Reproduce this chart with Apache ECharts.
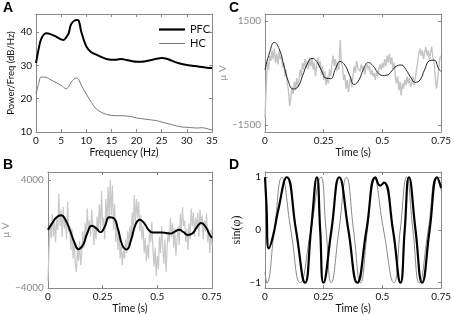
<!DOCTYPE html>
<html>
<head>
<meta charset="utf-8">
<script src="https://cdn.jsdelivr.net/npm/echarts@6/dist/echarts.min.js"></script>
<style>
  html, body { margin: 0; padding: 0; background: #fff; }
  #ec { width: 454px; height: 315px; }
</style>
</head>
<body>
<div id="ec"></div>
<script>
// A: power spectra (dB/Hz)
const freqA = [0, 0.5, 1, 2, 3, 4, 5, 5.5, 6, 6.5, 7, 8, 8.5, 9, 10, 11, 12, 13, 14, 15,
  16, 17, 18, 19, 20, 21, 22, 23, 24, 25, 26, 27, 28, 29, 30, 31, 32, 33, 34, 35];
const pfcA = [30.7, 34.7, 37.8, 39.6, 39.3, 38.6, 37.8, 37.6, 38.4, 39.6, 42.4, 43.6, 43.4, 40.1, 35.7, 33.9, 33.2, 32.5, 31.9, 31.7,
  31.7, 31.9, 31.6, 31.3, 31.1, 31.1, 31.3, 31.6, 32.0, 32.2, 32.0, 31.4, 30.8, 30.4, 30.1, 29.9, 29.7, 29.5, 29.3, 29.2];
const hcA = [21.4, 24.3, 26.5, 26.4, 25.6, 24.8, 24.0, 23.4, 23.0, 23.6, 25.0, 26.2, 25.8, 24.0, 21.4, 18.9, 16.9, 15.9, 15.3, 15.0,
  14.9, 14.9, 14.8, 14.6, 14.2, 14.0, 13.8, 13.6, 13.4, 13.0, 12.6, 12.2, 11.8, 11.5, 11.4, 11.3, 11.2, 11.3, 11.0, 10.6];

// B: PFC raw trace (every 5 ms) and theta-filtered trace
const dtRaw = 0.005;
const rawB = [-3500, -1200, 800, -300, 1500, -200, 900, -600, 1200, 300,
  3000, 600, 1800, -200, 2000, 400, 1200, -400, 2400, 200,
  600, -1200, 400, -1800, -600, -2200, -2800, -1000, -2000, -500,
  -2300, -1400, 200, -1000, 800, -300, 1900, 300, 1000, -200,
  1800, 600, -800, 500, -400, 1300, 200, 2200, 300, 3200,
  600, 1200, -400, 2600, 800, 3500, 1000, 4000, 1400, 3600,
  300, 2200, -600, 800, -1200, 200, -1800, -800, -2300, -1200,
  -1800, -400, -1400, 200, -800, 600, -600, 1600, 400, 2900,
  800, 2600, 1200, 2400, 200, 1400, -400, 600, -1400, -300,
  -2000, -800, -1800, 400, -600, 900, -1200, -2400, -1000, -3100,
  -1600, -2600, -200, -1400, 600, -1000, -2200, -400, -2800, -1000,
  200, -600, 1200, -200, 800, -1000, 400, -1600, -400, 600,
  -800, 1500, 200, 2000, 600, 1000, -600, 400, -1200, 800,
  -400, 1900, 600, 1600, -200, 1200, 400, 1600, -200, 1800,
  600, 1400, -400, 1000, 200, 1500, -600, 400, -1400, 300,
  -900];
const tFilt = [0, 0.02, 0.04, 0.06, 0.08, 0.10, 0.12, 0.14, 0.16, 0.18, 0.20, 0.22, 0.24, 0.26, 0.28, 0.30, 0.32, 0.34, 0.36, 0.38,
  0.40, 0.42, 0.44, 0.46, 0.48, 0.50, 0.52, 0.54, 0.56, 0.58, 0.60, 0.62, 0.64, 0.66, 0.68, 0.70, 0.72, 0.74, 0.75];
const filtB = [313, 815, 1240, 1390, 1065, 313, -564, -1115, -815, 63, 614, 439, 138, 564, 1240, 1190, 388, -815, -1140, -439,
  689, 1065, 815, 313, 113, 113, 113, 88, 38, 188, 313, 138, -63, 38, 489, 815, 564, -63, -263];

// C: HC raw trace and theta-filtered trace
const rawC = [-1300, -400, 300, 100, 500, 350, 650, 400, 700, 300,
  550, 250, 650, 400, 500, 150, 300, -100, 100, -300,
  -500, -950, -700, -400, -600, -250, -500, -150, -400, -200,
  100, -100, 300, 100, 400, 150, 350, 100, 450, 200,
  400, 100, 300, -100, 200, 450, 150, 350, -50, 200,
  -200, 50, -350, -100, -300, 100, -100, 250, 500, 200,
  400, 50, 300, 100, 950, 300, 200, -200, -50, -450,
  -200, -550, -300, -100, -400, -50, 200, 0, 350, 150,
  200, 50, 250, 100, 200, -50, 150, 250, 100, 200,
  -50, 100, -100, 0, -200, 50, -100, 100, 250, 100,
  300, 150, 400, 200, 500, 300, 550, 250, 450, 100,
  300, -100, -300, -100, -500, -250, -650, -300, -450, -200,
  -350, -100, -300, -150, -400, -300, -100, -350, -150, 100,
  300, 550, 700, 500, 650, 400, 600, 750, 500, 650,
  350, 600, 750, 450, 300, -100, -450, -200, 150, 450,
  500];
const filtC = [90, 600, 880, 700, 230, -250, -460, -400, -80, 260, 420, 330, 80, -150, -160, 120, 330, 230, -60, -330,
  -200, 120, 300, 210, 20, -70, -60, 60, 200, 230, 100, -120, -270, -200, 100, 350, 370, 120, 40];

// D: sine of theta phase
const tPhPfc = [0, 0.006, 0.016, 0.035, 0.055, 0.093, 0.132, 0.171, 0.196, 0.221, 0.235, 0.249, 0.283, 0.316, 0.355,
  0.393, 0.432, 0.471, 0.490, 0.507, 0.545, 0.577, 0.595, 0.613, 0.641, 0.669, 0.701, 0.733, 0.75];
const sinPfc = [1, 0.5, -0.35, -0.1, 0.35, 1, 0, -1, 0, 1, 0, -1, 0, 1, 0,
  -1, 0, 1, 0.84, 0.9, 0, -1, 0, 1, 0, -1, 0, 1, 0.8];
const tPhHc = [0, 0.008, 0.040, 0.072, 0.110, 0.150, 0.195, 0.238, 0.260, 0.282, 0.315, 0.347, 0.377,
  0.407, 0.436, 0.464, 0.505, 0.549, 0.576, 0.603, 0.630, 0.657, 0.695, 0.730, 0.75];
const sinHc = [-0.8, -1, 0, 1, 0, -1, 0, 1, 0, -1, 0, 1, 0,
  -1, 0, 1, 0, -1, 0, 1, 0, -1, 0, 1, 0.75];

const timeTicks = [0, 0.25, 0.5, 0.75];

const FONT = 'Lato';
const BOX = '#8a8a8a';

function pairs(t, v) { return v.map((y, i) => [t[i], y]); }
function sampled(v, dt) { return v.map((y, i) => [i * dt, y]); }
// plain numbers, real minus sign, no thousands separator
function num(v) { return String(v).replace('-', '\u2212'); }

// bottom/left axes carry labels, top/right just close the box
function xPair(grid, min, max, ticks, name, nameGap) {
  const base = {
    type: 'value', gridIndex: grid, min: min, max: max,
    axisLine: { show: true, onZero: false, lineStyle: { color: BOX, width: 1 } },
    axisTick: { inside: true, length: 3, customValues: ticks, lineStyle: { color: BOX } },
    splitLine: { show: false }
  };
  return [
    Object.assign({}, base, {
      position: 'bottom', name: name, nameLocation: 'middle', nameGap: nameGap,
      nameTextStyle: { fontFamily: FONT, fontSize: 10.5, color: '#111' },
      axisLabel: { customValues: ticks, formatter: num, fontFamily: FONT, fontSize: 10, color: '#111', margin: 4 }
    }),
    Object.assign({}, base, { position: 'top', axisLabel: { show: false } })
  ];
}
function yPair(grid, min, max, ticks, name, nameGap, nameStyle, labelColor) {
  const base = {
    type: 'value', gridIndex: grid, min: min, max: max,
    axisLine: { show: true, onZero: false, lineStyle: { color: BOX, width: 1 } },
    axisTick: { inside: true, length: 3, customValues: ticks, lineStyle: { color: BOX } },
    splitLine: { show: false }
  };
  return [
    Object.assign({}, base, {
      position: 'left', name: name, nameLocation: 'middle', nameGap: nameGap,
      nameTextStyle: nameStyle,
      axisLabel: { customValues: ticks, formatter: num, fontFamily: FONT, fontSize: 10, color: labelColor, margin: 4 }
    }),
    Object.assign({}, base, { position: 'right', axisLabel: { show: false } })
  ];
}

const chart = echarts.init(document.getElementById('ec'), null, { renderer: 'canvas' });

const legendBase = {
  orient: 'vertical', left: 154, itemWidth: 26, icon: 'rect',
  textStyle: { fontFamily: FONT, fontSize: 11, color: '#111' }
};

chart.setOption({
  animation: false,
  backgroundColor: '#fff',
  grid: [
    { left: 36, top: 14, width: 176, height: 118 },
    { left: 36, top: 172, width: 176, height: 117 },
    { left: 265, top: 14, width: 177, height: 118 },
    { left: 265, top: 172, width: 177, height: 116 }
  ],
  xAxis: [].concat(
    xPair(0, 0, 35, [0, 5, 10, 15, 20, 25, 30, 35], 'Frequency (Hz)', 14),
    xPair(1, 0, 0.75, timeTicks, 'Time (s)', 13),
    xPair(2, 0, 0.75, timeTicks, 'Time (s)', 9),
    xPair(3, 0, 0.75, timeTicks, 'Time (s)', 15)
  ),
  yAxis: [].concat(
    yPair(0, 10, 45.4, [10, 20, 30, 40], 'Power/Freq (dB/Hz)', 20,
      { fontFamily: FONT, fontSize: 9.5, color: '#111' }, '#111'),
    yPair(1, -4000, 4600, [-4000, 4000], 'μ V', 13,
      { fontFamily: FONT, fontSize: 10, color: '#999' }, '#888'),
    yPair(2, -1700, 1700, [-1500, 1500], 'μ V', 3,
      { fontFamily: FONT, fontSize: 10, color: '#999' }, '#888'),
    yPair(3, -1.1, 1.1, [-1, 0, 1], 'sin(φ)', 22,
      { fontFamily: 'Liberation Serif', fontSize: 12, color: '#111' }, '#111')
  ),
  legend: [
    Object.assign({}, legendBase, { data: ['PFC'], top: 19, itemHeight: 2.2 }),
    Object.assign({}, legendBase, { data: ['HC'], top: 33, itemHeight: 1 })
  ],
  graphic: [
    { type: 'text', left: 3, top: 1, style: { text: 'A', font: 'bold 14px "Liberation Sans"', fill: '#000' } },
    { type: 'text', left: 3, top: 158, style: { text: 'B', font: 'bold 14px "Liberation Sans"', fill: '#000' } },
    { type: 'text', left: 229, top: 1, style: { text: 'C', font: 'bold 14px "Liberation Sans"', fill: '#000' } },
    { type: 'text', left: 229, top: 158, style: { text: 'D', font: 'bold 14px "Liberation Sans"', fill: '#000' } }
  ],
  series: [
    {
      name: 'PFC', type: 'line', xAxisIndex: 0, yAxisIndex: 0, smooth: 0.3, symbol: 'none',
      data: pairs(freqA, pfcA), lineStyle: { color: '#000', width: 2 }, itemStyle: { color: '#000' }
    },
    {
      name: 'HC', type: 'line', xAxisIndex: 0, yAxisIndex: 0, smooth: 0.3, symbol: 'none',
      data: pairs(freqA, hcA), lineStyle: { color: '#777', width: 1 }, itemStyle: { color: '#777' }
    },
    {
      name: 'rawB', type: 'line', xAxisIndex: 2, yAxisIndex: 2, symbol: 'none',
      data: sampled(rawB, dtRaw), lineStyle: { color: '#c8c8c8', width: 1.2 }
    },
    {
      name: 'filtB', type: 'line', xAxisIndex: 2, yAxisIndex: 2, smooth: true, symbol: 'none',
      data: pairs(tFilt, filtB), lineStyle: { color: '#000', width: 2 }
    },
    {
      name: 'rawC', type: 'line', xAxisIndex: 4, yAxisIndex: 4, symbol: 'none',
      data: sampled(rawC, dtRaw), lineStyle: { color: '#c4c4c4', width: 1.4 }
    },
    {
      name: 'filtC', type: 'line', xAxisIndex: 4, yAxisIndex: 4, smooth: true, symbol: 'none',
      data: pairs(tFilt, filtC), lineStyle: { color: '#222', width: 1 }
    },
    {
      name: 'phHC', type: 'line', xAxisIndex: 6, yAxisIndex: 6, smooth: true, symbol: 'none',
      data: pairs(tPhHc, sinHc), lineStyle: { color: '#888', width: 1 }
    },
    {
      name: 'phPFC', type: 'line', xAxisIndex: 6, yAxisIndex: 6, smooth: true, symbol: 'none',
      data: pairs(tPhPfc, sinPfc), lineStyle: { color: '#000', width: 2.2 }
    }
  ]
});
</script>
</body>
</html>
